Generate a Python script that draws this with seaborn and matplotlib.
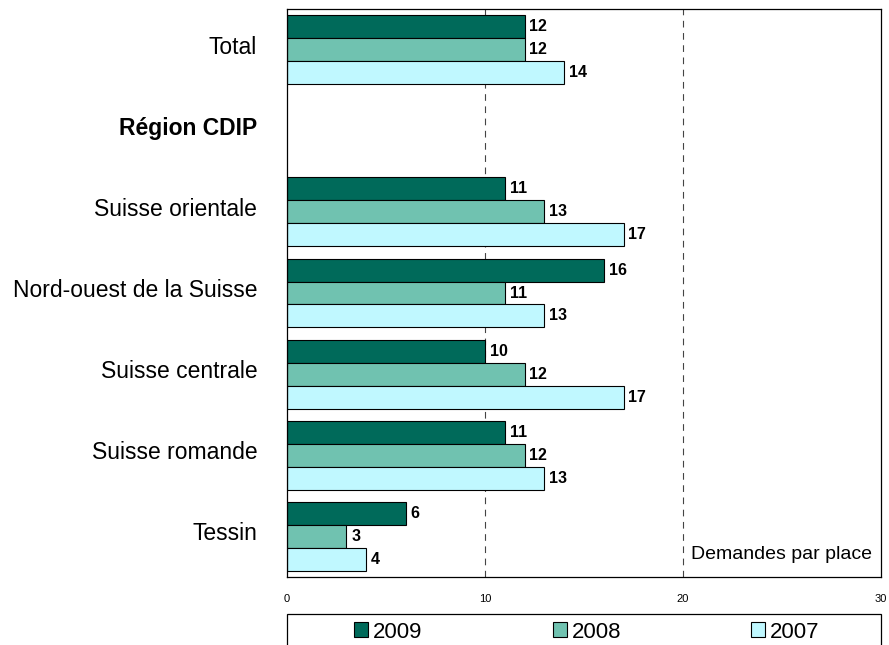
import numpy as np
import pandas as pd
import matplotlib
matplotlib.use("Agg")
import matplotlib.pyplot as plt
import matplotlib.transforms as mtransforms
import seaborn as sns
from matplotlib.patches import Rectangle, Patch

categories = ["Total", "Région CDIP", "Suisse orientale", "Nord-ouest de la Suisse",
              "Suisse centrale", "Suisse romande", "Tessin"]
years = ["2009", "2008", "2007"]
v2009 = [12, np.nan, 11, 16, 10, 11, 6]
v2008 = [12, np.nan, 13, 11, 12, 12, 3]
v2007 = [14, np.nan, 17, 13, 17, 13, 4]
xticks = [0, 10, 20, 30]
colors = ["#006a5a", "#70c2b0", "#c0f8ff"]

rows = []
for yr, vals in zip(years, [v2009, v2008, v2007]):
    for c, v in zip(categories, vals):
        rows.append({"cat": c, "year": yr, "val": v})
df = pd.DataFrame(rows).dropna()

sns.set_style("white")
plt.rcParams["font.family"] = ["Liberation Sans", "DejaVu Sans"]
plt.rcParams["text.color"] = "black"
plt.rcParams["xtick.color"] = "black"
plt.rcParams["ytick.color"] = "black"

W, H = 889, 645
fig = plt.figure(figsize=(W / 100, H / 100), dpi=100)
L, R, T, B = 287, 881, 9, 577
ax = fig.add_axes([L / W, 1 - B / H, (R - L) / W, (B - T) / H])

sns.barplot(data=df, y="cat", x="val", hue="year", order=categories, hue_order=years,
            palette=colors, orient="h", width=0.85, edgecolor="black", linewidth=0.8,
            saturation=1, errorbar=None, legend=False, ax=ax)

for cont in ax.containers:
    ax.bar_label(cont, fmt="%.0f", padding=3.5, fontsize=11.5, fontweight="bold",
                 color="black")

ax.set_xlim(0, 30)
ax.set_xticks(xticks)
ax.set_xticklabels([str(t) for t in xticks], fontsize=8)
ax.tick_params(axis="x", length=0, pad=12)
ax.tick_params(axis="y", length=0, pad=21.5, labelsize=16.5)
offset = mtransforms.ScaledTranslation(0, 5 / 100, fig.dpi_scale_trans)
for lab in ax.get_yticklabels():
    lab.set_transform(lab.get_transform() + offset)
    if lab.get_text() == "Région CDIP":
        lab.set_fontweight("bold")
ax.set_xlabel("")
ax.set_ylabel("")
for x in [10, 20]:
    ax.axvline(x, color="#444444", lw=0.8, ls=(0, (6, 5)), zorder=0)
for s in ax.spines.values():
    s.set_visible(True)
    s.set_color("black")
    s.set_linewidth(0.9)

ax.text(0.985, 0.04, "Demandes par place", transform=ax.transAxes, ha="right",
        va="center", fontsize=14)

handles = [Patch(facecolor=c, edgecolor="black", linewidth=0.8) for c in colors]
fig.legend(handles, years, loc="center", bbox_to_anchor=(587 / W, 1 - 632 / H), ncol=3,
           frameon=False, columnspacing=5.85, handlelength=0.63, handleheight=0.63,
           handletextpad=0.23, fontsize=16, borderpad=0, borderaxespad=0)
fig.patches.append(Rectangle((L / W, -0.02), (R - L) / W, (H - 614) / H + 0.02,
                             transform=fig.transFigure, fill=False, edgecolor="black",
                             linewidth=0.9, clip_on=False))

fig.savefig("out.png", dpi=100)
